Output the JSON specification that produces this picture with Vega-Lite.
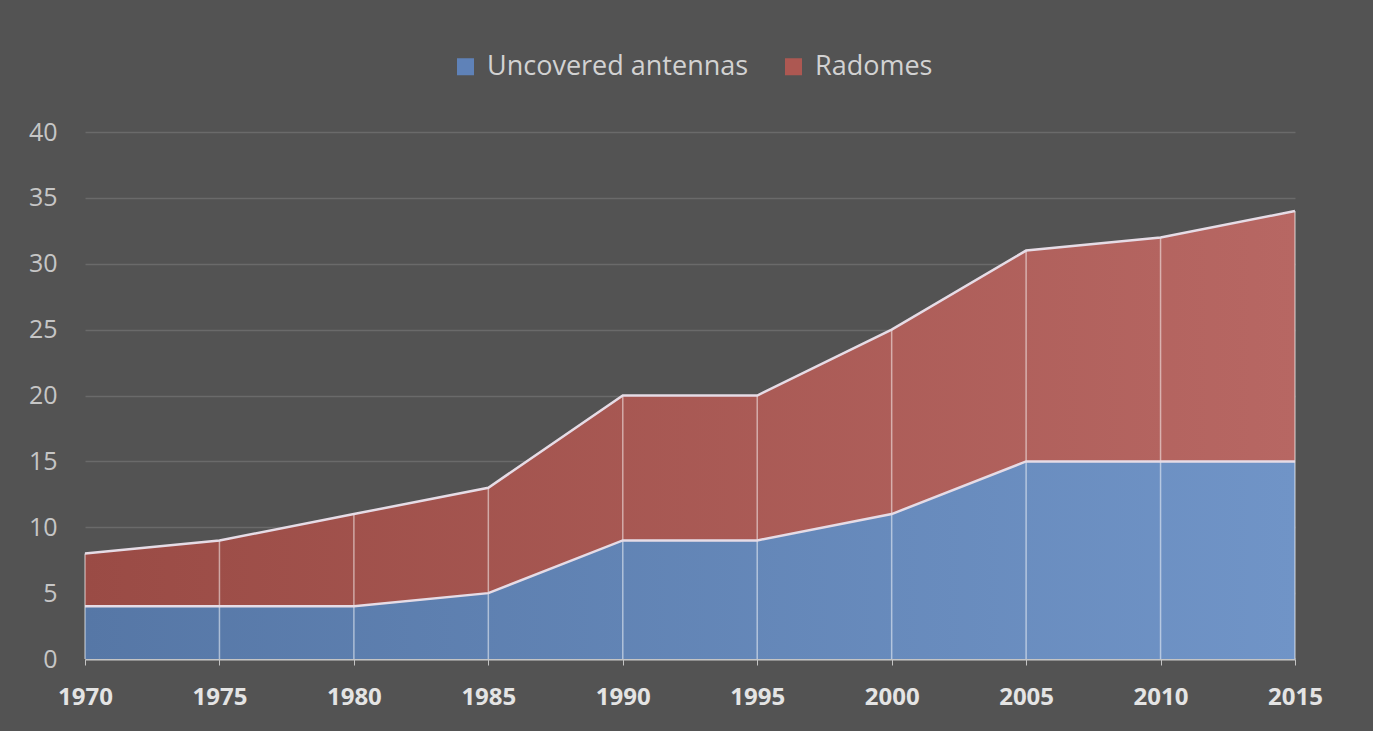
{
  "$schema": "https://vega.github.io/schema/vega-lite/v6.json",
  "width": 1210,
  "height": 527,
  "autosize": {"type": "none"},
  "padding": {"left": 85, "top": 132, "right": 78, "bottom": 72},
  "background": "#535353",
  "config": {
    "view": {"stroke": null},
    "font": "Open Sans"
  },
  "data": {
    "values": [
      {"year": 1970, "series": "Uncovered antennas", "order": 1, "value": 4},
      {"year": 1975, "series": "Uncovered antennas", "order": 1, "value": 4},
      {"year": 1980, "series": "Uncovered antennas", "order": 1, "value": 4},
      {"year": 1985, "series": "Uncovered antennas", "order": 1, "value": 5},
      {"year": 1990, "series": "Uncovered antennas", "order": 1, "value": 9},
      {"year": 1995, "series": "Uncovered antennas", "order": 1, "value": 9},
      {"year": 2000, "series": "Uncovered antennas", "order": 1, "value": 11},
      {"year": 2005, "series": "Uncovered antennas", "order": 1, "value": 15},
      {"year": 2010, "series": "Uncovered antennas", "order": 1, "value": 15},
      {"year": 2015, "series": "Uncovered antennas", "order": 1, "value": 15},
      {"year": 1970, "series": "Radomes", "order": 2, "value": 4},
      {"year": 1975, "series": "Radomes", "order": 2, "value": 5},
      {"year": 1980, "series": "Radomes", "order": 2, "value": 7},
      {"year": 1985, "series": "Radomes", "order": 2, "value": 8},
      {"year": 1990, "series": "Radomes", "order": 2, "value": 11},
      {"year": 1995, "series": "Radomes", "order": 2, "value": 11},
      {"year": 2000, "series": "Radomes", "order": 2, "value": 14},
      {"year": 2005, "series": "Radomes", "order": 2, "value": 16},
      {"year": 2010, "series": "Radomes", "order": 2, "value": 17},
      {"year": 2015, "series": "Radomes", "order": 2, "value": 19}
    ]
  },
  "transform": [
    {"stack": "value", "groupby": ["year"], "sort": [{"field": "order", "order": "ascending"}], "as": ["y0", "y1"]}
  ],
  "encoding": {
    "x": {
      "field": "year",
      "type": "quantitative",
      "scale": {"domain": [1970, 2015], "nice": false, "zero": false},
      "axis": {
        "values": [1970, 1975, 1980, 1985, 1990, 1995, 2000, 2005, 2010, 2015],
        "format": "d",
        "title": null,
        "grid": false,
        "domain": true,
        "domainColor": "#c4c4c4",
        "domainWidth": 2,
        "ticks": true,
        "tickColor": "#c4c4c4",
        "tickSize": 6,
        "tickWidth": 1,
        "labelColor": "#e4e4e4",
        "labelFont": "Open Sans",
        "labelFontWeight": "bold",
        "labelFontSize": 24,
        "labelPadding": 20,
        "labelFlush": false
      }
    }
  },
  "layer": [
    {
      "transform": [{"filter": "datum.series === 'Uncovered antennas'"}],
      "mark": {
        "type": "area",
        "fill": {"gradient": "linear", "x1": 0, "y1": 0, "x2": 1, "y2": 0, "stops": [{"offset": 0, "color": "#5677a6"}, {"offset": 1, "color": "#7094c7"}]}
      },
      "encoding": {
        "y": {
          "field": "y1",
          "type": "quantitative",
          "scale": {"domain": [0, 40], "nice": false},
          "axis": {
            "values": [0, 5, 10, 15, 20, 25, 30, 35, 40],
            "title": null,
            "grid": true,
            "gridColor": "#6a6a6a",
            "gridWidth": 1.5,
            "domain": false,
            "ticks": false,
            "labelColor": "#c6c6c6",
            "labelFont": "Open Sans",
            "labelFontSize": 25,
            "labelPadding": 28
          }
        },
        "y2": {"field": "y0"}
      }
    },
    {
      "transform": [{"filter": "datum.series === 'Radomes'"}],
      "mark": {
        "type": "area",
        "fill": {"gradient": "linear", "x1": 0, "y1": 0, "x2": 1, "y2": 0, "stops": [{"offset": 0, "color": "#9a4b45"}, {"offset": 1, "color": "#b76763"}]}
      },
      "encoding": {
        "y": {"field": "y1", "type": "quantitative"},
        "y2": {"field": "y0"}
      }
    },
    {
      "transform": [{"filter": "datum.series === 'Radomes'"}],
      "mark": {"type": "rule", "color": "#ffffff", "opacity": 0.5, "strokeWidth": 1.5},
      "encoding": {
        "y": {"field": "y1", "type": "quantitative"},
        "y2": {"datum": 0}
      }
    },
    {
      "mark": {"type": "line", "color": "#e6dce6", "strokeWidth": 2.5},
      "encoding": {
        "y": {"field": "y1", "type": "quantitative"},
        "detail": {"field": "series", "type": "nominal"}
      }
    },
    {
      "mark": {"type": "square", "opacity": 0},
      "encoding": {
        "y": {"field": "y1", "type": "quantitative"},
        "color": {
          "field": "series",
          "type": "nominal",
          "scale": {"domain": ["Uncovered antennas", "Radomes"], "range": ["#5f82b8", "#ad5852"]},
          "legend": {
            "title": null,
            "orient": "none",
            "direction": "horizontal",
            "legendX": 367,
            "legendY": -79,
            "symbolType": "square",
            "symbolSize": 289,
            "symbolOpacity": 1,
            "symbolStrokeWidth": 0,
            "labelColor": "#d2d2d2",
            "labelFont": "Open Sans",
            "labelFontSize": 27,
            "labelLimit": 600,
            "labelOffset": 8,
            "columnPadding": 31
          }
        }
      }
    }
  ]
}
